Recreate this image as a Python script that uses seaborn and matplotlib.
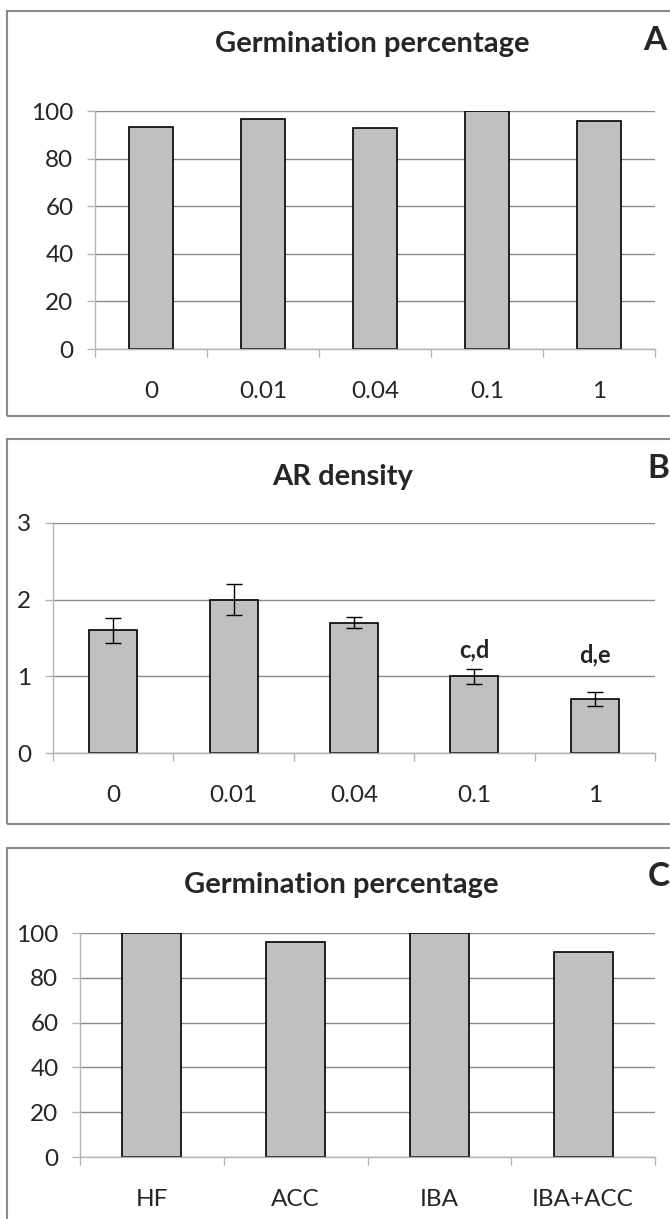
import numpy as np
import pandas as pd
import matplotlib
matplotlib.use("Agg")
import matplotlib.pyplot as plt
from matplotlib.patches import Rectangle
import seaborn as sns

# ---------------- data ----------------
conc_labels = ["0", "0.01", "0.04", "0.1", "1"]
germ_a = [93.3, 96.7, 92.7, 100.0, 95.9]

ar_density = [1.6, 2.0, 1.7, 1.0, 0.7]
ar_err = [0.16, 0.20, 0.07, 0.10, 0.09]
ar_letters = ["", "", "", "c,d", "d,e"]
ar_letter_y = [None, None, None, 1.34, 1.28]

treat_labels = ["HF", "ACC", "IBA", "IBA+ACC"]
germ_c = [100.0, 96.0, 100.0, 91.7]

titles = ["Germination percentage", "AR density", "Germination percentage"]
panel_tags = ["A", "B", "C"]

# ---------------- style ----------------
sns.set_style("white")
plt.rcParams["font.family"] = ["Lato", "DejaVu Sans"]

W, H = 670, 1219
fig = plt.figure(figsize=(W / 100, H / 100), dpi=100)

GRID = "#8a8a8a"
AXC = "#b4b4b4"
BORDER = "#8a8a8a"
BAR = "#c0c0c0"
TICKFS = 17.5


def px_axes(left, right, top, bottom):
    return fig.add_axes([left / W, 1 - bottom / H, (right - left) / W, (bottom - top) / H])


def style_axes(ax, n, yticks, ymax, xpad):
    ax.set_xlim(-0.5, n - 0.5)
    ax.set_ylim(0, ymax)
    ax.set_yticks(yticks)
    ax.set_yticklabels([str(t) for t in yticks])
    ax.set_xticks(np.arange(-0.5, n, 1.0), minor=True)
    ax.yaxis.grid(True, color=GRID, lw=1.0)
    ax.xaxis.grid(False)
    ax.set_axisbelow(True)
    for s in ["top", "right"]:
        ax.spines[s].set_visible(False)
    for s in ["left", "bottom"]:
        ax.spines[s].set_color(AXC)
        ax.spines[s].set_linewidth(1.0)
    ax.tick_params(axis="y", which="major", length=5.5, width=1, color=AXC,
                   direction="out", labelsize=TICKFS, pad=10, left=True)
    ax.tick_params(axis="x", which="major", length=0, labelsize=TICKFS, pad=xpad)
    ax.tick_params(axis="x", which="minor", length=5.5, width=1, color=AXC,
                   direction="out", bottom=True)
    ax.set_xlabel("")
    ax.set_ylabel("")


def border(x0, y0, x1, y1):
    fig.patches.append(Rectangle((x0 / W, 1 - y1 / H), (x1 - x0) / W, (y1 - y0) / H,
                                 transform=fig.transFigure, fill=False,
                                 edgecolor=BORDER, lw=1.5, zorder=0))


def ftext(x, y, s, **kw):
    fig.text(x / W, 1 - y / H, s, **kw)


# ---------------- panel A ----------------
border(7, 11, 700, 416)
axA = px_axes(95, 655, 111, 349)
dfA = pd.DataFrame({"conc": conc_labels, "value": germ_a})
sns.barplot(data=dfA, x="conc", y="value", order=conc_labels, ax=axA,
            color=BAR, saturation=1, width=0.4, edgecolor="black", linewidth=1.2)
style_axes(axA, len(conc_labels), [0, 20, 40, 60, 80, 100], 100, 23)
ftext(372, 52, titles[0], ha="center", va="baseline", fontsize=21, fontweight="bold")
ftext(643, 50, panel_tags[0], ha="left", va="baseline", fontsize=24, fontweight="bold")

# ---------------- panel B ----------------
border(7, 439, 700, 824)
axB = px_axes(53, 655, 523, 753)
dfB = pd.DataFrame({"conc": conc_labels, "value": ar_density})
sns.barplot(data=dfB, x="conc", y="value", order=conc_labels, ax=axB,
            color=BAR, saturation=1, width=0.4, edgecolor="black", linewidth=1.2)
axB.errorbar(np.arange(len(conc_labels)), ar_density, yerr=ar_err, fmt="none",
             ecolor="black", elinewidth=1.0, capsize=6, capthick=1.0, zorder=5)
for i, (lab, ly) in enumerate(zip(ar_letters, ar_letter_y)):
    if lab:
        axB.text(i, ly, lab, ha="center", va="center", fontsize=17, fontweight="bold")
style_axes(axB, len(conc_labels), [0, 1, 2, 3], 3, 23)
ftext(343, 485, titles[1], ha="center", va="baseline", fontsize=21, fontweight="bold")
ftext(647, 478, panel_tags[1], ha="left", va="baseline", fontsize=24, fontweight="bold")

# ---------------- panel C ----------------
border(7, 848, 700, 1300)
axC = px_axes(80, 655, 933, 1157)
dfC = pd.DataFrame({"treat": treat_labels, "value": germ_c})
sns.barplot(data=dfC, x="treat", y="value", order=treat_labels, ax=axC,
            color=BAR, saturation=1, width=0.41, edgecolor="black", linewidth=1.2)
style_axes(axC, len(treat_labels), [0, 20, 40, 60, 80, 100], 100, 23)
ftext(341, 893, titles[2], ha="center", va="baseline", fontsize=21, fontweight="bold")
ftext(648, 886, panel_tags[2], ha="left", va="baseline", fontsize=24, fontweight="bold")

fig.savefig("out.png", dpi=100)
